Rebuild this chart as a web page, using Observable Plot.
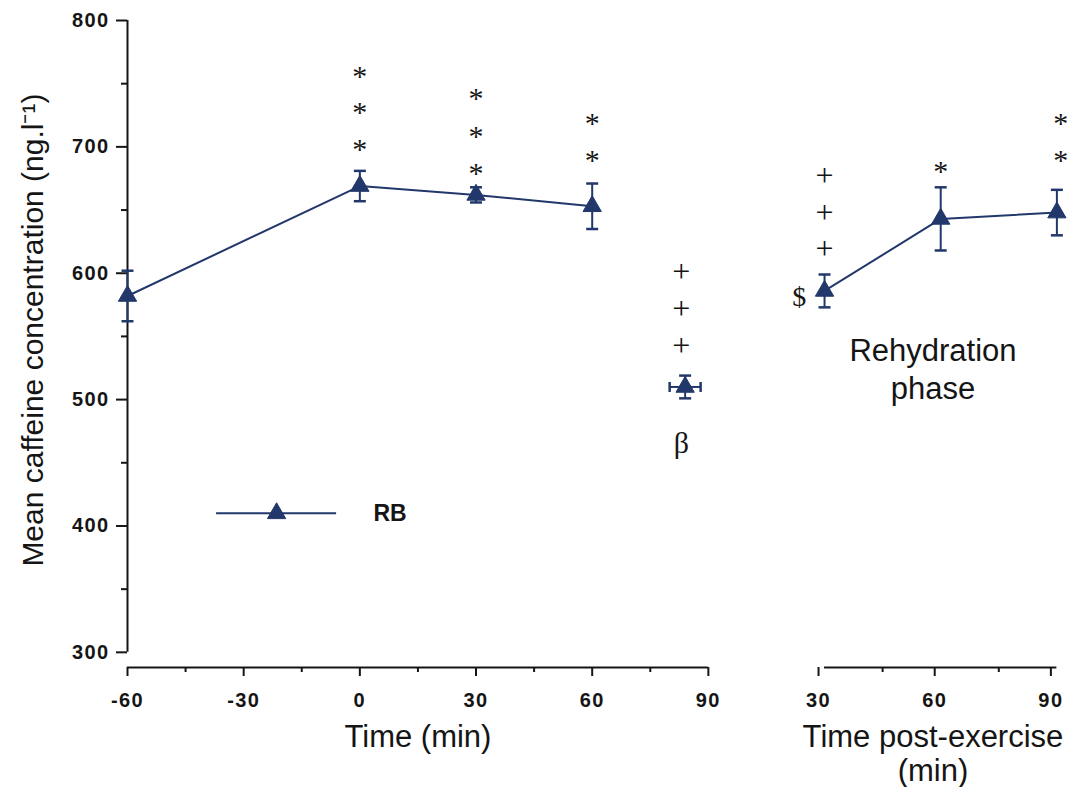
<!DOCTYPE html>
<html>
<head>
<meta charset="utf-8">
<script src="https://cdn.jsdelivr.net/npm/d3@7"></script>
<script src="https://cdn.jsdelivr.net/npm/@observablehq/plot@0.6"></script>
<style>
  body { margin: 0; background: #ffffff; }
  #chart { width: 1068px; height: 787px; overflow: hidden; }
  #chart g[aria-label="x-axis tick label"] text,
  #chart g[aria-label="y-axis tick label"] text { letter-spacing: 1.4px; }
</style>
</head>
<body>
<div id="chart"></div>
<script>
// ---------- data ----------
const preTimes = [-60, 0, 30, 60];
const preMeans = [582, 669, 662, 653];
const preErrors = [20, 12, 6, 18];

const exTimes = [84];
const exMeans = [510];
const exErrors = [9];
const exTimeErrors = [4];

const postTimes = [30, 60, 90];
const postMeans = [586, 643, 648];
const postErrors = [13, 25, 18];

// ---------- tick labels ----------
const leftTicks = [-60, -30, 0, 30, 60, 90];
const leftMinorTicks = [-45, -15, 15, 45, 75];
const postTicks = [30, 60, 90];
const postMinorTicks = [45, 75];
const yTicks = [300, 400, 500, 600, 700, 800];
const yMinorTicks = [350, 450, 550, 650, 750];

// ---------- annotations (significance symbols) ----------
const starTimes = [0, 0, 0, 30, 30, 30, 60, 60];
const starValues = [758, 730, 700, 741, 711, 681, 721, 692];
const postStarTimes = [60, 91, 91];
const postStarValues = [683, 721, 692];
const exPlusTimes = [83, 83, 83];
const exPlusValues = [601, 572, 543];
const postPlusTimes = [30, 30, 30];
const postPlusValues = [677, 648, 619];
const betaTime = 83, betaValue = 465;
const dollarTime = 23.5, dollarValue = 581;

const seriesName = "RB";
const yLabel = "Mean caffeine concentration (ng.l\u207B\u00B9)";
const xLabel = "Time (min)";
const postLabel = "Time post-exercise\n(min)";
const phaseLabel = "Rehydration\nphase";

// ---------- layout constants ----------
const OFFSET = 90;          // post-exercise panel shifted on the shared time axis
const NAVY = "#22386b";
const INK = "#151515";
const SERIF = "'Liberation Serif', 'Times New Roman', serif";
const yDomain = [288, 800];
const xDomain = [-60, 183];

const pre = preTimes.map((t, i) => ({x: t, y: preMeans[i], e: preErrors[i]}));
const ex = exTimes.map((t, i) => ({x: t, y: exMeans[i], e: exErrors[i], xe: exTimeErrors[i]}));
const post = postTimes.map((t, i) => ({x: t + OFFSET, y: postMeans[i], e: postErrors[i]}));
const all = [...pre, ...ex, ...post];

const stars = [
  ...starTimes.map((t, i) => ({x: t, y: starValues[i]})),
  ...postStarTimes.map((t, i) => ({x: t + OFFSET, y: postStarValues[i]}))
];
const pluses = [
  ...exPlusTimes.map((t, i) => ({x: t, y: exPlusValues[i]})),
  ...postPlusTimes.map((t, i) => ({x: t + OFFSET, y: postPlusValues[i]}))
];

const hcap = {draw(ctx, size) { const w = Math.sqrt(size / Math.PI); ctx.moveTo(-w, 0); ctx.lineTo(w, 0); }};
const vcap = {draw(ctx, size) { const w = Math.sqrt(size / Math.PI); ctx.moveTo(0, -w); ctx.lineTo(0, w); }};

const legendY = 410, legendX1 = -37, legendX2 = -6, legendTri = -21.5, legendText = 3.5;

const axisOpts = {fill: INK, stroke: INK, strokeWidth: 2, label: null};
const regular = {fontWeight: "normal", fill: INK};

const chart = Plot.plot({
  width: 1068,
  height: 787,
  marginLeft: 127,
  marginRight: 0,
  marginTop: 20,
  marginBottom: 120,
  x: {domain: xDomain},
  y: {domain: yDomain},
  style: {fontFamily: "'Liberation Sans', Arial, sans-serif", fontSize: "20px", fontWeight: "bold", background: "transparent", color: INK, overflow: "visible"},
  marks: [
    // axis lines
    Plot.ruleX([leftTicks[0]], {y1: yTicks[0], y2: yTicks[yTicks.length - 1], stroke: INK, strokeWidth: 2}),
    Plot.ruleY([yDomain[0]], {x1: leftTicks[0], x2: leftTicks[leftTicks.length - 1], stroke: INK, strokeWidth: 2}),
    Plot.ruleY([yDomain[0]], {x1: postTicks[0] + OFFSET, x2: postTicks[postTicks.length - 1] + OFFSET, stroke: INK, strokeWidth: 2}),
    // y axis
    Plot.axisY(yTicks, {anchor: "left", tickSize: 11, tickPadding: 7, ...axisOpts}),
    Plot.axisY(yMinorTicks, {anchor: "left", tickSize: 6, tickFormat: () => "", ...axisOpts}),
    // x axes
    Plot.axisX(leftTicks, {anchor: "bottom", tickSize: 9, tickPadding: 16, tickFormat: d => String(d), ...axisOpts}),
    Plot.axisX(leftMinorTicks, {anchor: "bottom", tickSize: 5, tickFormat: () => "", ...axisOpts}),
    Plot.axisX(postTicks.map(t => t + OFFSET), {anchor: "bottom", tickSize: 9, tickPadding: 16, tickFormat: d => String(d - OFFSET), dx: -6, ...axisOpts}),
    Plot.axisX(postMinorTicks.map(t => t + OFFSET), {anchor: "bottom", tickSize: 5, tickFormat: () => "", ...axisOpts}),
    // axis titles
    Plot.text([yLabel], {frameAnchor: "left", y: 555, rotate: -90, dx: -94, textAnchor: "middle", lineAnchor: "middle", fontSize: 30, ...regular}),
    Plot.text([xLabel], {frameAnchor: "bottom", x: d3.mean([leftTicks[0], leftTicks[leftTicks.length - 1]]), dy: 70, lineAnchor: "middle", fontSize: 31, ...regular}),
    Plot.text([postLabel], {frameAnchor: "bottom", x: d3.mean([postTicks[0], postTicks[postTicks.length - 1]]) + OFFSET - 2, dy: 86, lineAnchor: "middle", fontSize: 31, lineHeight: 1.1, ...regular}),
    // series lines
    Plot.line(pre, {x: "x", y: "y", stroke: NAVY, strokeWidth: 2}),
    Plot.line(post, {x: "x", y: "y", stroke: NAVY, strokeWidth: 2}),
    // error bars
    Plot.ruleX(all, {x: "x", y1: d => d.y - d.e, y2: d => d.y + d.e, stroke: NAVY, strokeWidth: 2}),
    Plot.dot(all, {x: "x", y: d => d.y + d.e, symbol: hcap, r: 6, stroke: NAVY, strokeWidth: 2.5, fill: "none"}),
    Plot.dot(all, {x: "x", y: d => d.y - d.e, symbol: hcap, r: 6, stroke: NAVY, strokeWidth: 2.5, fill: "none"}),
    Plot.ruleY(ex, {y: "y", x1: d => d.x - d.xe, x2: d => d.x + d.xe, stroke: NAVY, strokeWidth: 2}),
    Plot.dot(ex, {x: d => d.x - d.xe, y: "y", symbol: vcap, r: 5, stroke: NAVY, strokeWidth: 2.5, fill: "none"}),
    Plot.dot(ex, {x: d => d.x + d.xe, y: "y", symbol: vcap, r: 5, stroke: NAVY, strokeWidth: 2.5, fill: "none"}),
    // markers
    Plot.dot(all, {x: "x", y: "y", symbol: "triangle", r: 6.8, fill: NAVY, stroke: NAVY, strokeWidth: 1}),
    // legend
    Plot.ruleY([legendY], {x1: legendX1, x2: legendX2, stroke: NAVY, strokeWidth: 2}),
    Plot.dot([legendY], {x: legendTri, y: d => d, symbol: "triangle", r: 6.8, fill: NAVY, stroke: NAVY, strokeWidth: 1}),
    Plot.text([seriesName], {x: legendText, y: legendY, textAnchor: "start", fontSize: 23, fontWeight: "bold", fill: INK}),
    // annotations
    Plot.text(stars, {x: "x", y: "y", text: () => "*", fontFamily: SERIF, fontSize: 30, dy: 3, ...regular}),
    Plot.text(pluses, {x: "x", y: "y", text: () => "+", fontFamily: SERIF, fontSize: 32, dy: 0, ...regular}),
    Plot.text(["\u03B2"], {x: betaTime, y: betaValue, fontFamily: SERIF, fontSize: 30, ...regular}),
    Plot.text(["$"], {x: dollarTime + OFFSET, y: dollarValue, fontFamily: SERIF, fontSize: 28, ...regular}),
    Plot.text([phaseLabel], {x: 58 + OFFSET, y: 525, fontSize: 31, lineHeight: 1.2, ...regular})
  ]
});

document.getElementById("chart").appendChild(chart);
</script>
</body>
</html>
